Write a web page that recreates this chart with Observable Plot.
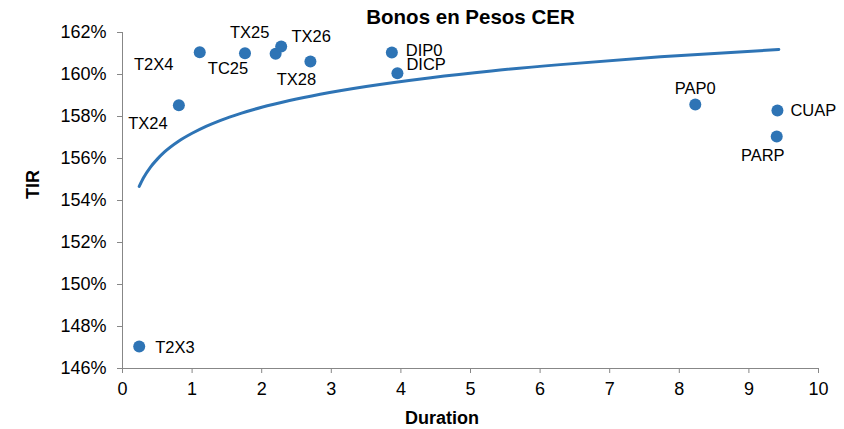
<!DOCTYPE html>
<html><head><meta charset="utf-8">
<script src="https://cdn.jsdelivr.net/npm/d3@7"></script>
<script src="https://cdn.jsdelivr.net/npm/@observablehq/plot@0.6"></script>
<style>
html,body{margin:0;padding:0;background:#fff}
#chart svg{display:block}
</style>
</head><body><div id="chart"></div>
<script>
// Data
const bonds    = ["T2X3","TX24","T2X4","TC25","TX25","TX26","TX28","DIP0","DICP","PAP0","CUAP","PARP"];
const duration = [0.24, 0.81, 1.11, 1.76, 2.20, 2.28, 2.70, 3.87, 3.95, 8.23, 9.41, 9.40];
const tir      = [147.05, 158.54, 161.06, 161.01, 160.99, 161.33, 160.62, 161.05, 160.06, 158.57, 158.29, 157.05];

// Trend line (logarithmic fit)
const trendDuration = [0.24, 0.3, 0.4, 0.5, 0.6, 0.8, 1.0, 1.2, 1.41, 1.7, 2.0, 2.4, 2.84, 3.5, 4.43, 5.3, 6.29, 7.73, 9.43];
const trendTIR      = [154.67, 155.07, 155.58, 155.97, 156.30, 156.81, 157.20, 157.53, 157.82, 158.15, 158.44, 158.76, 159.06, 159.43, 159.85, 160.17, 160.47, 160.84, 161.19];

const xTicks = [0,1,2,3,4,5,6,7,8,9,10];
const yTicks = [146,148,150,152,154,156,158,160,162];

const title = "Bonos en Pesos CER";
const xLabel = "Duration";
const yLabel = "TIR";

// Layout (label placement relative to each dot)
const placement = {
  T2X3: ["start", 16, 1],
  TX24: ["middle", -31, 19],
  T2X4: ["middle", -46, 12],
  TC25: ["middle", -17, 15],
  TX25: ["middle", -26, -21],
  TX26: ["middle", 30, -10],
  TX28: ["middle", -14, 18.5],
  DIP0: ["start", 14, -1.5],
  DICP: ["start", 9, -9],
  PAP0: ["middle", 0, -16],
  CUAP: ["start", 13, 0],
  PARP: ["middle", -14, 19]
};

const points = bonds.map((name, i) => ({name, duration: duration[i], tir: tir[i]}));
const trend = trendDuration.map((d, i) => ({duration: d, tir: trendTIR[i]}));

const blue = "#2e74b5";
const axisGray = "#878787";
const font = "'Liberation Sans', Arial, Helvetica, sans-serif";

const labelMarks = points.map(p => {
  const [anchor, dx, dy] = placement[p.name];
  return Plot.text([p], {x: "duration", y: "tir", text: "name", textAnchor: anchor,
    dx, dy, lineAnchor: "middle", fontSize: 16.5, fill: "#000"});
});

const chart = Plot.plot({
  width: 844, height: 429,
  marginTop: 32, marginRight: 26, marginBottom: 61, marginLeft: 122,
  style: {fontFamily: font, fontSize: "18px", color: "#000", background: "#fff", overflow: "visible"},
  x: {domain: [0, 10]},
  y: {domain: [146, 162]},
  marks: [
    Plot.axisX({ticks: xTicks, tickSize: 5, tickPadding: 9, stroke: axisGray, fill: "#000", fontSize: 18, label: null}),
    Plot.axisY({ticks: yTicks, tickSize: 5, tickPadding: 11, stroke: axisGray, fill: "#000", fontSize: 18,
      tickFormat: d => d + "%", label: null}),
    Plot.ruleX([0], {stroke: axisGray}),
    Plot.ruleY([146], {stroke: axisGray}),
    Plot.line(trend, {x: "duration", y: "tir", stroke: blue, strokeWidth: 3, curve: "monotone-x"}),
    Plot.dot(points, {x: "duration", y: "tir", r: 6, fill: blue}),
    ...labelMarks,
    Plot.text([title], {text: d => d, frameAnchor: "top", lineAnchor: "bottom", dy: -9,
      fontSize: 20.5, fontWeight: "bold", fill: "#000"}),
    Plot.text([xLabel], {text: d => d, frameAnchor: "bottom", lineAnchor: "bottom", dy: 55, dx: -28.5,
      fontSize: 18, fontWeight: "bold", fill: "#000"}),
    Plot.text([yLabel], {text: d => d, frameAnchor: "left", lineAnchor: "bottom", rotate: -90, dx: -84, dy: -1.5,
      fontSize: 18, fontWeight: "bold", fill: "#000"})
  ]
});
document.getElementById("chart").appendChild(chart);
</script>
</body></html>
